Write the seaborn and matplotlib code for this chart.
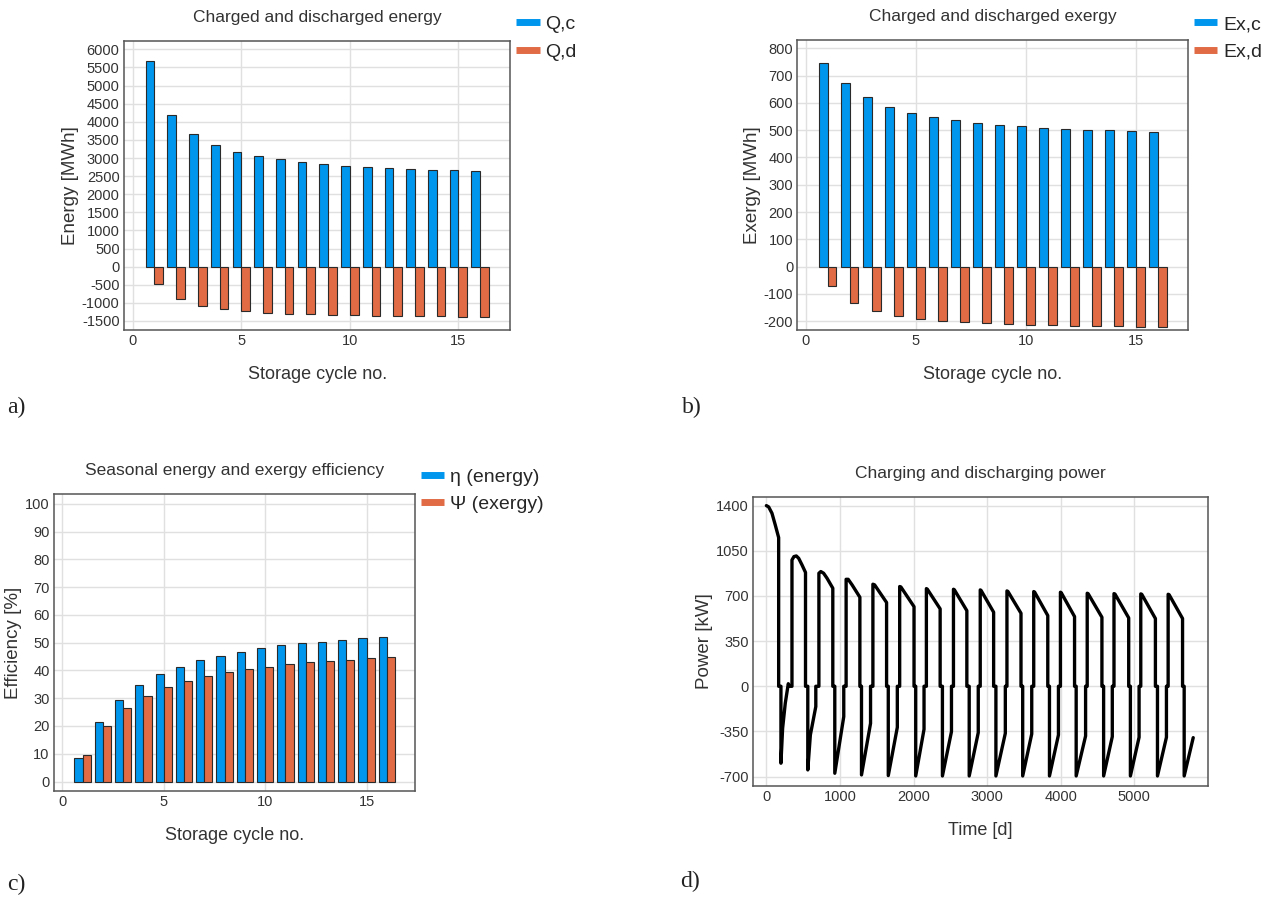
import numpy as np
import pandas as pd
import matplotlib.pyplot as plt
from matplotlib.lines import Line2D
import seaborn as sns

# storage cycles
cycles = list(range(1, 17))

# a) charged / discharged energy [MWh]
q_charged = [5680, 4200, 3650, 3360, 3170, 3050, 2960, 2890, 2830, 2790, 2750, 2720, 2700, 2680, 2660, 2640]
q_discharged = [-490, -900, -1080, -1180, -1235, -1270, -1300, -1315, -1335, -1345, -1355, -1362, -1370, -1372, -1380, -1382]

# b) charged / discharged exergy [MWh]
ex_charged = [745, 671, 620, 586, 564, 550, 536, 528, 520, 514, 509, 506, 502, 500, 497, 495]
ex_discharged = [-70, -134, -164, -181, -192, -199, -204, -208, -210, -212, -214, -216, -217, -219, -220, -221]

# c) seasonal efficiency [%]
eta_energy = [8.5, 21.3, 29.3, 34.7, 38.6, 41.4, 43.6, 45.3, 46.8, 47.9, 49.0, 49.8, 50.4, 51.0, 51.6, 52.1]
psi_exergy = [9.5, 20.0, 26.6, 30.9, 33.9, 36.2, 38.1, 39.4, 40.5, 41.3, 42.3, 42.9, 43.5, 43.8, 44.3, 44.7]

# d) charging / discharging power (one row per cycle)
time_d = [
    0, 31, 76, 121, 167, 167, 198, 198, 221, 257, 298, 312, 348,
    348, 375, 407, 439, 484, 532, 532, 563, 563, 598, 672, 672, 714,
    714, 740, 778, 825, 903, 903, 930, 930, 1052, 1052, 1084,
    1084, 1112, 1166, 1271, 1271, 1293, 1293, 1416, 1416, 1448,
    1448, 1471, 1634, 1634, 1657, 1657, 1780, 1780, 1812,
    1812, 1828, 2007, 2007, 2030, 2030, 2143, 2143, 2175,
    2175, 2188, 2362, 2362, 2393, 2393, 2516, 2516, 2543,
    2543, 2555, 2725, 2725, 2757, 2757, 2880, 2880, 2907,
    2907, 2918, 3089, 3089, 3120, 3120, 3248, 3248, 3270,
    3270, 3283, 3461, 3461, 3484, 3484, 3607, 3607, 3634,
    3634, 3646, 3825, 3825, 3848, 3848, 3970, 3970, 3997,
    3997, 4008, 4189, 4189, 4211, 4211, 4339, 4339, 4361,
    4361, 4373, 4561, 4561, 4584, 4584, 4702, 4702, 4725,
    4725, 4738, 4925, 4925, 4948, 4948, 5066, 5066, 5089,
    5089, 5102, 5288, 5288, 5316, 5316, 5438, 5438, 5461,
    5461, 5474, 5657, 5657, 5679, 5679, 5802,
]
power_kw = [
    1400, 1390, 1341, 1250, 1152, 0, 0, -596, -325, -131, 20, 0, 0,
    979, 1005, 1010, 992, 941, 882, 0, 0, -648, -377, -157, 0, 0,
    876, 889, 876, 837, 760, 0, 0, -674, -235, 0, 0,
    829, 829, 785, 690, 0, 0, -687, -287, 0, 0,
    791, 786, 649, 0, 0, -692, -318, 0, 0,
    773, 770, 617, 0, 0, -695, -333, 0, 0,
    757, 752, 600, 0, 0, -695, -351, 0, 0,
    752, 748, 586, 0, 0, -695, -359, 0, 0,
    747, 743, 574, 0, 0, -695, -364, 0, 0,
    739, 735, 566, 0, 0, -695, -369, 0, 0,
    734, 730, 548, 0, 0, -695, -377, 0, 0,
    729, 725, 540, 0, 0, -695, -385, 0, 0,
    721, 718, 535, 0, 0, -695, -390, 0, 0,
    718, 715, 530, 0, 0, -695, -395, 0, 0,
    716, 713, 525, 0, 0, -695, -395, 0, 0,
    713, 710, 525, 0, 0, -695, -398,
]

BLUE = "#0096ee"
ORANGE = "#e06b45"
EDGE = "#2a2a2a"
TXT = "#333333"

sns.set_theme(style="white")
plt.rcParams["font.family"] = ["Liberation Sans", "DejaVu Sans"]
plt.rcParams["axes.unicode_minus"] = False

fig = plt.figure(figsize=(12.68, 8.98), dpi=100)
ax_a = fig.add_axes([0.0976, 0.6325, 0.3049, 0.3218])
ax_b = fig.add_axes([0.6289, 0.6325, 0.3080, 0.3229])
ax_c = fig.add_axes([0.0424, 0.1195, 0.2852, 0.3300])
ax_d = fig.add_axes([0.5936, 0.1251, 0.3588, 0.3212])


def style_axes(ax, title, xlabel, ylabel):
    ax.set_axisbelow(True)
    ax.grid(True, color="#e0e0e0", lw=1.0)
    for sp in ax.spines.values():
        sp.set_color("#555555")
        sp.set_linewidth(1.1)
    ax.tick_params(direction="in", length=4, width=0.8, color="#555555",
                   labelsize=10.5, labelcolor=TXT, pad=3)
    ax.set_title(title, fontsize=12.5, color=TXT, pad=14)
    ax.set_xlabel(xlabel, fontsize=13, color=TXT, labelpad=13)
    ax.set_ylabel(ylabel, fontsize=13.5, color=TXT, labelpad=2)


def bar_panel(ax, pos, neg, labels):
    df = pd.DataFrame({"cycle": cycles, labels[0]: pos, labels[1]: neg})
    df = df.melt(id_vars="cycle", var_name="series", value_name="value")
    sns.barplot(data=df, x="cycle", y="value", hue="series", hue_order=labels,
                palette=[BLUE, ORANGE], native_scale=True, saturation=1,
                width=0.8, edgecolor=EDGE, linewidth=0.8, legend=False, ax=ax)
    handles = [Line2D([], [], color=BLUE, lw=5, solid_capstyle="butt"),
               Line2D([], [], color=ORANGE, lw=5, solid_capstyle="butt")]
    return handles


def add_legend(ax, handles, labels, y):
    ax.legend(handles, labels, loc="upper left", bbox_to_anchor=(1.015, y),
              frameon=False, fontsize=14, handlelength=1.2, handletextpad=0.3,
              labelspacing=0.5, borderaxespad=0, borderpad=0)


# a)
h = bar_panel(ax_a, q_charged, q_discharged, ["Q,c", "Q,d"])
style_axes(ax_a, "Charged and discharged energy", "Storage cycle no.", "Energy [MWh]")
ax_a.set_xlim(-0.41, 17.39)
ax_a.set_ylim(-1750, 6230)
ax_a.set_xticks([0, 5, 10, 15])
ax_a.set_yticks(np.arange(-1500, 6001, 500))
add_legend(ax_a, h, ["Q,c", "Q,d"], 1.088)

# b)
h = bar_panel(ax_b, ex_charged, ex_discharged, ["Ex,c", "Ex,d"])
style_axes(ax_b, "Charged and discharged exergy", "Storage cycle no.", "Exergy [MWh]")
ax_b.set_xlim(-0.37, 17.35)
ax_b.set_ylim(-232, 830)
ax_b.set_xticks([0, 5, 10, 15])
ax_b.set_yticks(np.arange(-200, 801, 100))
add_legend(ax_b, h, ["Ex,c", "Ex,d"], 1.085)

# c)
h = bar_panel(ax_c, eta_energy, psi_exergy, ["η (energy)", "Ψ (exergy)"])
style_axes(ax_c, "Seasonal energy and exergy efficiency", "Storage cycle no.", "Efficiency [%]")
ax_c.set_xlim(-0.42, 17.41)
ax_c.set_ylim(-3.3, 103.4)
ax_c.set_xticks([0, 5, 10, 15])
ax_c.set_yticks(np.arange(0, 101, 10))
add_legend(ax_c, h, ["η (energy)", "Ψ (exergy)"], 1.088)

# d)
sns.lineplot(x=time_d, y=power_kw, sort=False, estimator=None, color="black",
             lw=2.4, ax=ax_d)
style_axes(ax_d, "Charging and discharging power", "Time [d]", "Power [kW]")
ax_d.set_xlim(-186, 5998)
ax_d.set_ylim(-770, 1465)
ax_d.set_xticks(np.arange(0, 5001, 1000))
ax_d.set_yticks([-700, -350, 0, 350, 700, 1050, 1400])

for lab, x, y in [("a)", 0.006, 0.546), ("b)", 0.538, 0.546),
                  ("c)", 0.006, 0.015), ("d)", 0.536, 0.018)]:
    fig.text(x, y, lab, fontsize=17, family=["Liberation Serif", "DejaVu Serif"],
             color="#222222", va="center", ha="left")

fig.savefig("out.png", dpi=100)
